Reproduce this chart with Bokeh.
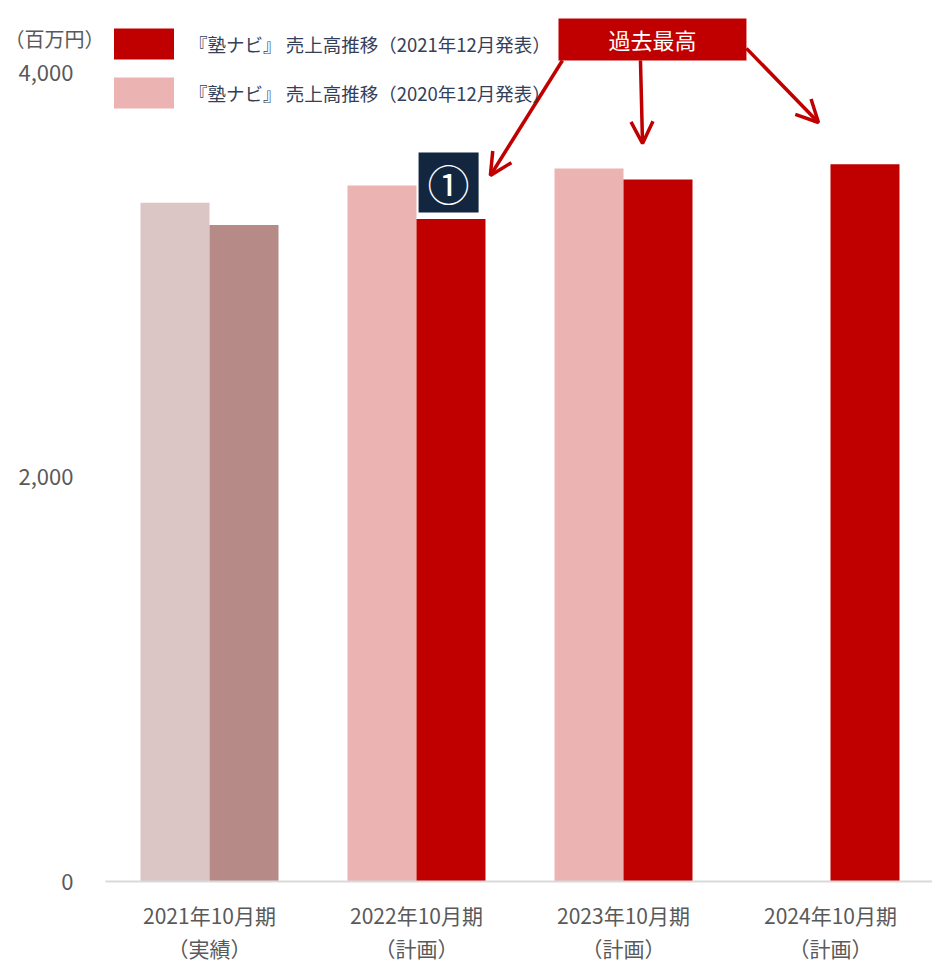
from bokeh.plotting import figure
from bokeh.models import (Range1d, FixedTicker, LinearAxis, Legend, LegendItem,
                          ColumnDataSource, Arrow, OpenHead, NumeralTickFormatter)
from bokeh.transform import dodge
from bokeh.core.properties import value
from bokeh.embed import file_html
from bokeh.resources import INLINE

# ---------------- data ----------------
periods = ["2021年10月期", "2022年10月期", "2023年10月期", "2024年10月期"]
period_notes = ["（実績）", "（計画）", "（計画）", "（計画）"]
sales_2021_dec = [3250, 3280, 3475, 3550]                 # 2021年12月発表
sales_2020_dec = [3360, 3445, 3530, float("nan")]         # 2020年12月発表
series_names = ["『塾ナビ』 売上高推移（2021年12月発表）",
                "『塾ナビ』 売上高推移（2020年12月発表）"]
y_ticks = [0, 2000, 4000]
unit_label = "（百万円）"
highlight_label = "過去最高"
marker_label = "①"

# ---------------- styles ----------------
colors_2021 = ["#b58a87", "#c00000", "#c00000", "#c00000"]
colors_2020 = ["#dbc5c5", "#ebb3b2", "#ebb3b2", "#ebb3b2"]
RED = "#c00000"
NAVY = "#13263f"
GRAY = "#595959"
FONT = "Noto Sans CJK JP"

idx = list(range(len(periods)))
src = ColumnDataSource(dict(x=idx, s21=sales_2021_dec, s20=sales_2020_dec,
                            c21=colors_2021, c20=colors_2020))

p = figure(width=932, height=968, output_backend="svg", toolbar_location=None,
           x_range=Range1d(-0.5024, 3.4928), y_range=Range1d(0, 4361),
           min_border_left=105, min_border_right=0, min_border_top=0,
           min_border_bottom=87)
p.outline_line_color = None
p.xgrid.grid_line_color = None
p.ygrid.grid_line_color = None
p.background_fill_color = "white"
p.border_fill_color = "white"

r20 = p.vbar(x=dodge("x", -1/6), top="s20", width=1/3, source=src,
             fill_color="c20", line_color=None)
r21 = p.vbar(x=dodge("x", 1/6), top="s21", width=1/3, source=src,
             fill_color="c21", line_color=None)

# ---------------- axes ----------------
ya = p.yaxis[0]
ya.ticker = FixedTicker(ticks=y_ticks)
ya.formatter = NumeralTickFormatter(format="0,0")
ya.axis_line_color = None
ya.major_tick_line_color = None
ya.minor_tick_line_color = None
ya.major_tick_out = 0
ya.major_tick_in = 0
ya.major_label_standoff = 32
ya.major_label_text_font = FONT
ya.major_label_text_font_size = "22px"
ya.major_label_text_color = GRAY
# unit label on top of the value axis (blank lines push it below the frame top)
ya.axis_label = "\u3000\n\u3000\n" + unit_label
ya.axis_label_orientation = "horizontal"
ya.axis_label_align = "end"
ya.axis_label_standoff = -89
ya.axis_label_text_font = FONT
ya.axis_label_text_font_size = "20px"
ya.axis_label_text_font_style = "normal"
ya.axis_label_text_color = GRAY
ya.axis_label_text_line_height = 1.3

xa = p.xaxis[0]
xa.ticker = FixedTicker(ticks=idx)
xa.major_label_overrides = {i: periods[i] for i in idx}
xa.axis_line_color = "#d9d9d9"
xa.axis_line_width = 2
xa.major_tick_line_color = None
xa.minor_tick_line_color = None
xa.major_tick_out = 0
xa.major_tick_in = 0
xa.major_label_standoff = 18
xa.major_label_text_font = FONT
xa.major_label_text_font_size = "21px"
xa.major_label_text_color = GRAY

xa2 = LinearAxis(ticker=FixedTicker(ticks=idx),
                 major_label_overrides={i: period_notes[i] for i in idx})
xa2.axis_line_color = None
xa2.major_tick_line_color = None
xa2.minor_tick_line_color = None
xa2.major_tick_out = 0
xa2.major_tick_in = 0
xa2.major_label_standoff = 0
xa2.major_label_text_font = FONT
xa2.major_label_text_font_size = "21px"
xa2.major_label_text_color = GRAY
p.add_layout(xa2, "below")

# ---------------- legend ----------------
legend = Legend(items=[LegendItem(label=series_names[0], renderers=[r21], index=1),
                       LegendItem(label=series_names[1], renderers=[r20], index=1)],
                location=(1, 769), glyph_width=75, glyph_height=39, spacing=10,
                label_standoff=8, padding=0, margin=0, border_line_color=None,
                background_fill_alpha=0, label_text_font=FONT,
                label_text_font_size="18.5px", label_text_color="#34405a")
p.add_layout(legend)

# ---------------- annotations ----------------
# "過去最高" box
p.quad(left=[1.686], right=[2.594], bottom=[4064], top=[4272], fill_color=RED, line_color=None)
p.text(x=[2.14], y=[4168], text=[highlight_label], text_align="center", text_baseline="middle",
       text_font=value(FONT), text_font_size="22px", text_color="white")

# "①" box
p.quad(left=[1.010], right=[1.300], bottom=[3312], top=[3609], fill_color=NAVY, line_color=None)
p.text(x=[1.155], y=[3460], text=[marker_label], text_align="center", text_baseline="middle",
       text_font=value(FONT), text_font_size="42px", text_font_style="normal",
       text_color="white")

arrows = [((1.705, 4064), (1.357, 3495)),
          ((2.082, 4064), (2.092, 3653)),
          ((2.594, 4124), (2.942, 3757))]
for (xs, ys), (xe, ye) in arrows:
    p.add_layout(Arrow(end=OpenHead(line_color=RED, line_width=3.5, size=22),
                       x_start=xs, y_start=ys, x_end=xe, y_end=ye,
                       line_color=RED, line_width=3.5))

open("out.html", "w").write(file_html(p, INLINE))
